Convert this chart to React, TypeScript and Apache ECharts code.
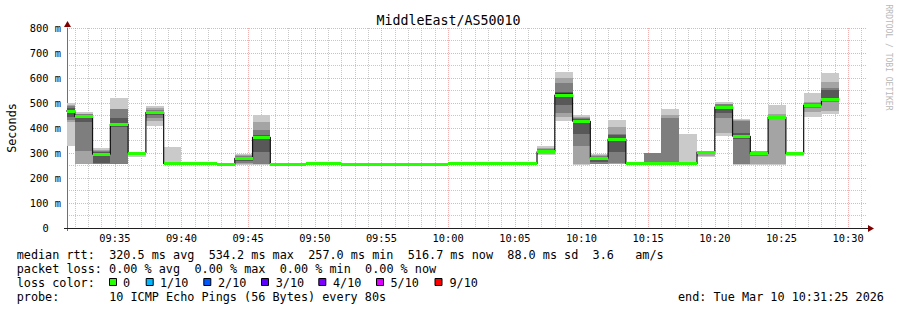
import React, { useEffect, useRef } from 'react';
import * as echarts from 'echarts';

const chartTitle = 'MiddleEast/AS50010';
const yAxisName = 'Seconds';
const watermark = 'RRDTOOL / TOBI OETIKER';

const axisStart = '09:31:25';
const axisEnd = '10:31:25';

// RRD step start times (80 s steps) and end of last step
const stepStarts = [
  '09:30:40', '09:32:00', '09:33:20', '09:34:40', '09:36:00', '09:37:20', '09:38:40', '09:40:00', '09:41:20', '09:42:40',
  '09:44:00', '09:45:20', '09:46:40', '09:48:00', '09:49:20', '09:50:40', '09:52:00', '09:53:20', '09:54:40', '09:56:00',
  '09:57:20', '09:58:40', '10:00:00', '10:01:20', '10:02:40', '10:04:00', '10:05:20', '10:06:40', '10:08:00', '10:09:20',
  '10:10:40', '10:12:00', '10:13:20', '10:14:40', '10:16:00', '10:17:20', '10:18:40', '10:20:00', '10:21:20', '10:22:40',
  '10:24:00', '10:25:20', '10:26:40', '10:28:00',
];
const dataEnd = '10:29:20';

// median rtt per step (ms)
const medians = [
  468, 445, 295, 416, 300, 463, 257, 257, 257, 254,
  279, 363, 256, 256, 257, 257, 256, 256, 256, 256,
  256, 256, 257, 257, 257, 257, 257, 305, 532, 427,
  279, 356, 257, 257, 257, 257, 304, 484, 367, 297,
  444, 297, 492, 515,
];

// sorted ping rtts per step (ms), 10 pings
const pings = [
  [329, 425, 432, 445, 465, 471, 481, 487, 492, 499],
  [255, 256, 308, 425, 440, 450, 452, 455, 458, 463],
  [255, 257, 258, 262, 290, 299, 303, 308, 312, 319],
  [255, 256, 257, 405, 413, 419, 441, 476, 478, 521],
  [285, 295, 297, 298, 299, 301, 302, 303, 304, 306],
  [409, 428, 440, 452, 460, 466, 470, 474, 480, 488],
  [255, 256, 256, 257, 257, 257, 258, 258, 259, 324],
  [256, 256, 256, 257, 257, 257, 257, 258, 258, 258],
  [256, 256, 257, 257, 257, 257, 257, 258, 258, 259],
  [253, 253, 254, 254, 254, 254, 254, 255, 255, 256],
  [254, 258, 262, 268, 276, 282, 286, 290, 293, 296],
  [254, 255, 256, 305, 360, 366, 372, 392, 423, 452],
  [255, 255, 256, 256, 256, 256, 256, 257, 257, 258],
  [255, 256, 256, 256, 256, 256, 257, 257, 257, 258],
  [256, 256, 256, 257, 257, 257, 257, 257, 258, 258],
  [256, 256, 257, 257, 257, 257, 257, 258, 258, 258],
  [255, 255, 256, 256, 256, 256, 256, 257, 257, 257],
  [255, 256, 256, 256, 256, 256, 256, 257, 257, 258],
  [255, 255, 256, 256, 256, 256, 257, 257, 257, 258],
  [255, 256, 256, 256, 256, 256, 256, 257, 257, 257],
  [255, 255, 256, 256, 256, 256, 256, 257, 257, 258],
  [255, 256, 256, 256, 256, 256, 257, 257, 257, 258],
  [256, 256, 256, 257, 257, 257, 257, 257, 258, 258],
  [256, 256, 257, 257, 257, 257, 257, 258, 258, 258],
  [256, 256, 256, 257, 257, 257, 257, 258, 258, 259],
  [256, 256, 257, 257, 257, 257, 257, 257, 258, 258],
  [256, 256, 256, 257, 257, 257, 257, 258, 258, 258],
  [294, 297, 300, 302, 304, 306, 310, 315, 321, 328],
  [429, 443, 459, 492, 525, 539, 545, 579, 599, 623],
  [254, 255, 329, 376, 420, 434, 438, 441, 446, 452],
  [255, 256, 258, 265, 274, 283, 286, 289, 292, 296],
  [256, 257, 259, 305, 352, 360, 372, 376, 405, 432],
  [256, 256, 256, 257, 257, 257, 257, 258, 258, 258],
  [255, 256, 256, 257, 257, 257, 258, 299, 299, 300],
  [255, 256, 256, 257, 257, 257, 258, 439, 452, 476],
  [255, 256, 256, 257, 257, 257, 257, 258, 258, 376],
  [283, 290, 295, 300, 303, 305, 306, 307, 307, 308],
  [369, 379, 439, 460, 480, 488, 490, 495, 498, 503],
  [254, 255, 256, 355, 362, 372, 380, 428, 432, 436],
  [254, 255, 290, 293, 295, 299, 302, 305, 307, 308],
  [253, 258, 440, 441, 442, 446, 448, 450, 455, 492],
  [288, 292, 294, 296, 297, 298, 299, 300, 302, 304],
  [445, 465, 482, 487, 490, 494, 497, 500, 505, 539],
  [456, 469, 505, 512, 514, 516, 552, 559, 585, 619],
];

const xLabelTimes = ['09:35', '09:40', '09:45', '09:50', '09:55', '10:00', '10:05', '10:10', '10:15', '10:20', '10:25', '10:30'];
const yMax = 800;
const yStep = 100;

const smokeColors = ['#cacaca', '#a4a4a4', '#7e7e7e', '#585858', '#323232'];
const lossLabels = ['0', '1/10', '2/10', '3/10', '4/10', '5/10', '9/10'];
const lossColors = ['#26ff00', '#00b8ff', '#0059ff', '#5e00ff', '#7e00ff', '#dd00ff', '#ff0000'];

const legendLines = [
  'median rtt:  320.5 ms avg  534.2 ms max  257.0 ms min  516.7 ms now  88.0 ms sd  3.6   am/s',
  'packet loss: 0.00 % avg  0.00 % max  0.00 % min  0.00 % now',
  'loss color:',
  'probe:       10 ICMP Echo Pings (56 Bytes) every 80s',
];
const endText = 'end: Tue Mar 10 10:31:25 2026';

// ---------- helpers / layout ----------
const MONO = '"DejaVu Sans Mono", monospace';
const toSec = (s: string) => {
  const p = s.split(':').map(Number);
  return p[0] * 3600 + p[1] * 60 + (p[2] || 0);
};
const fmt = (v: number) => {
  const h = Math.floor(v / 3600);
  const m = Math.floor((v % 3600) / 60);
  return String(h).padStart(2, '0') + ':' + String(m).padStart(2, '0');
};

const GRID = { left: 67, top: 28, width: 800, height: 200 };
const CW = 7.11;
const LX = 16.7;
const lineY = [255, 269, 283, 297];
const boxX = [109, 145.7, 203.3, 261, 318.3, 376, 434.5];
const boxLabelX = [123, 160, 218, 275.7, 333, 390.5, 449.5];

function segments(line: string) {
  const out: { text: string; col: number }[] = [];
  const re = /\S+(?: \S+)*/g;
  let m: RegExpExecArray | null;
  while ((m = re.exec(line))) out.push({ text: m[0], col: m.index });
  return out;
}

function txt(text: string, x: number, y: number, size: number, opts: any = {}) {
  return {
    type: 'text',
    x,
    y,
    rotation: opts.rotation || 0,
    silent: true,
    style: {
      text,
      fontSize: size,
      fontFamily: MONO,
      fill: opts.fill || '#000',
      textAlign: opts.align || 'left',
      align: opts.align || 'left',
      textVerticalAlign: 'middle',
      verticalAlign: 'middle',
    },
  };
}

export default function App() {
  const ref = useRef<HTMLDivElement>(null);

  useEffect(() => {
    if (!ref.current) return;
    const chart = echarts.init(ref.current, undefined, { renderer: 'svg', width: 897, height: 310 });

    const xMin = toSec(axisStart);
    const xMax = toSec(axisEnd);
    const majorTicks = xLabelTimes.map(toSec);
    const minorTicks: number[] = [];
    for (let t = Math.ceil(xMin / 60) * 60; t <= xMax; t += 60) {
      if (t % 300 !== 0) minorTicks.push(t);
    }

    const ends = stepStarts.map((s, i) => (i + 1 < stepStarts.length ? toSec(stepStarts[i + 1]) : toSec(dataEnd)));
    const smokeData = stepStarts.map((s, i) => [toSec(s), ends[i], ...pings[i]]);
    const medData = stepStarts.map((s, i) => [toSec(s), ends[i], medians[i]]);
    const lineData = stepStarts.map((s, i) => [toSec(s), medians[i]]);
    lineData.push([toSec(dataEnd), medians[medians.length - 1]]);

    const clampX = (params: any, api: any) => {
      const cs = params.coordSys;
      let x0 = api.coord([api.value(0), 0])[0];
      let x1 = api.coord([api.value(1), 0])[0];
      x0 = Math.round(Math.max(x0, cs.x));
      x1 = Math.round(Math.min(x1, cs.x + cs.width));
      return [x0, x1];
    };

    const graphics: any[] = [];
    graphics.push(txt(chartTitle, 448.5, 20, 13.3, { align: 'center' }));
    graphics.push(txt(yAxisName, 11.5, 128, 11.8, { align: 'center', rotation: Math.PI / 2 }));
    graphics.push(txt(watermark, 888, 57.5, 8, { align: 'center', rotation: -Math.PI / 2, fill: '#b8b8b8' }));
    legendLines.forEach((line, li) => {
      segments(line).forEach((sg) => graphics.push(txt(sg.text, LX + sg.col * CW, lineY[li], 11.8)));
    });
    graphics.push(txt(endText, 678, lineY[3], 11.8));
    lossLabels.forEach((lab, i) => {
      graphics.push({
        type: 'rect',
        silent: true,
        shape: { x: boxX[i] + 0.5, y: 278.5, width: 7, height: 7 },
        style: { fill: lossColors[i], stroke: '#000', lineWidth: 1 },
      });
      graphics.push(txt(lab, boxLabelX[i], lineY[2], 11.8));
    });
    // axis line stubs and arrows
    graphics.push({
      type: 'line',
      silent: true,
      z: 10,
      shape: { x1: 67.5, y1: 228, x2: 67.5, y2: 231 },
      style: { stroke: '#707070', lineWidth: 1 },
    });
    graphics.push({
      type: 'line',
      silent: true,
      z: 10,
      shape: { x1: 64, y1: 228.5, x2: 868, y2: 228.5 },
      style: { stroke: '#202020', lineWidth: 1 },
    });
    graphics.push({
      type: 'polygon',
      silent: true,
      z: 10,
      shape: { points: [[64, 27], [71, 27], [67.5, 21]] },
      style: { fill: '#800000' },
    });
    graphics.push({
      type: 'polygon',
      silent: true,
      z: 10,
      shape: { points: [[868, 225], [868, 232], [874, 228.5]] },
      style: { fill: '#800000' },
    });

    const gridGray = { color: 'rgba(143,143,143,0.5)', width: 1, type: [1, 1] as any };
    const gridRed = { color: 'rgba(222,80,80,0.45)', width: 1, type: [1, 1] as any };

    chart.setOption({
      animation: false,
      backgroundColor: '#ffffff',
      grid: { ...GRID, outerBoundsMode: 'none' },
      xAxis: [
        {
          type: 'value',
          min: xMin,
          max: xMax,
          position: 'bottom',
          axisLine: { show: false },
          axisTick: { show: false, customValues: majorTicks },
          axisLabel: {
            customValues: majorTicks,
            formatter: (v: number) => fmt(v),
            fontFamily: MONO,
            fontSize: 10.35,
            color: '#000',
            margin: 5,
          },
          splitLine: { show: true, lineStyle: gridRed },
        },
        {
          type: 'value',
          min: xMin,
          max: xMax,
          position: 'bottom',
          axisLine: { show: false },
          axisTick: { show: false, customValues: minorTicks },
          axisLabel: { show: false, customValues: minorTicks },
          splitLine: { show: true, lineStyle: gridGray },
        },
      ],
      yAxis: {
        type: 'value',
        min: 0,
        max: yMax,
        interval: yStep,
        axisLine: { show: true, onZero: false, lineStyle: { color: '#707070', width: 1 } },
        axisTick: { show: false },
        axisLabel: {
          fontFamily: MONO,
          fontSize: 10.35,
          color: '#000',
          margin: 6,
          formatter: (v: number) => (v === 0 ? '{z|0}' : `${v} m`),
          rich: { z: { fontFamily: MONO, fontSize: 10.35, color: '#000', padding: [0, 12.4, 0, 0] } },
        },
        splitLine: { show: true, lineStyle: gridRed },
        minorTick: { show: false, splitNumber: 2 },
        minorSplitLine: { show: true, lineStyle: gridGray },
      },
      series: [
        {
          type: 'custom',
          name: 'smoke',
          silent: true,
          z: 2,
          xAxisIndex: 0,
          encode: { x: [0, 1], y: [2, 3, 4, 5, 6, 7, 8, 9, 10, 11] },
          data: smokeData,
          renderItem: (params: any, api: any) => {
            const [x0, x1] = clampX(params, api);
            if (x1 <= x0) return null;
            const children: any[] = [];
            for (let b = 0; b < 5; b++) {
              const lo = api.value(2 + b);
              const hi = api.value(11 - b);
              const yTop = Math.round(api.coord([api.value(0), hi])[1]);
              const yBot = Math.round(api.coord([api.value(0), lo])[1]);
              if (yBot - yTop <= 0) continue;
              children.push({
                type: 'rect',
                shape: { x: x0, y: yTop, width: x1 - x0, height: yBot - yTop },
                style: { fill: smokeColors[b] },
              });
            }
            return { type: 'group', children };
          },
        },
        {
          type: 'line',
          name: 'median',
          silent: true,
          z: 3,
          xAxisIndex: 0,
          step: 'end',
          symbol: 'none',
          lineStyle: { color: '#111', width: 1.2 },
          data: lineData,
        },
        {
          type: 'custom',
          name: 'loss0',
          silent: true,
          z: 4,
          xAxisIndex: 0,
          encode: { x: [0, 1], y: 2 },
          data: medData,
          renderItem: (params: any, api: any) => {
            const [x0, x1] = clampX(params, api);
            if (x1 <= x0) return null;
            const yc = api.coord([api.value(0), api.value(2)])[1];
            return {
              type: 'rect',
              shape: { x: x0, y: Math.round(yc - 1.5), width: x1 - x0, height: 3 },
              style: { fill: lossColors[0] },
            };
          },
        },
      ],
      graphic: { elements: graphics },
    });

    return () => chart.dispose();
  }, []);

  return <div ref={ref} style={{ position: 'absolute', left: 0, top: 0, width: 897, height: 310 }} />;
}
